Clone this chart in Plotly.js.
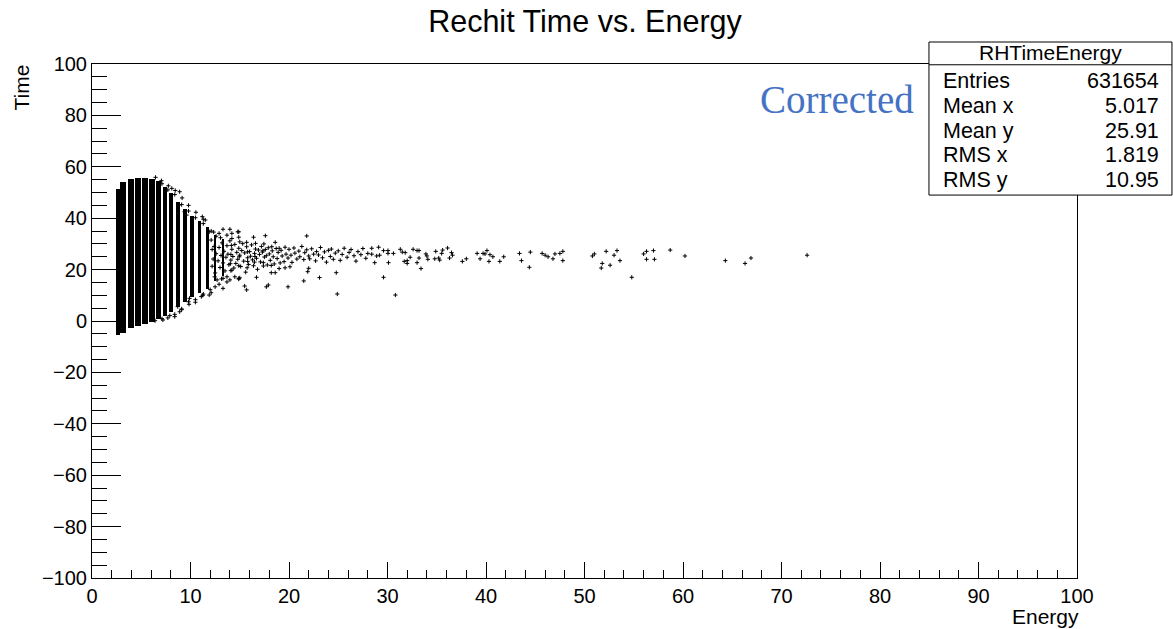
<!DOCTYPE html>
<html>
<head>
<meta charset="utf-8">
<script src="https://cdn.plot.ly/plotly-3.0.1.min.js"></script>
<style>html,body{margin:0;padding:0;background:#fff;}#chart{width:1173px;height:629px;}</style>
</head>
<body>
<div id="chart"></div>
<script>
// Dense core columns (energy bins): centre, width, time extent
const colEnergy = [2.65, 3.15, 3.95, 4.7, 5.4, 6.1, 6.75, 7.4, 8.05, 8.75, 9.45, 10.15, 10.9, 11.7, 12.5, 13.3];
const colWidth  = [0.45, 0.6, 0.62, 0.6, 0.58, 0.55, 0.5, 0.46, 0.42, 0.4, 0.37, 0.34, 0.32, 0.3, 0.26, 0.22];
const colTimeLo = [-5.3, -4.8, -2.6, -1.8, -1.0, -0.2, 0.6, 1.8, 3.4, 5.5, 7.5, 9.2, 10.8, 12.4, 15.5, 17.5];
const colTimeHi = [51.5, 54.0, 55.3, 55.6, 55.5, 55.2, 54.3, 52.0, 49.8, 46.5, 43.6, 41.0, 38.8, 36.5, 33.5, 32.0];

// Individual scattered entries
const ptEnergy = [
 8.1, 8.9, 8.8, 9.4, 9.6, 11.2, 11.5, 11.9, 13.3, 14.0, 14.2, 14.9, 8.9, 8.7, 9.8, 9.9, 11.1, 11.3, 11.9, 12.5, 13.3, 12.7, 13.3, 13.7, 14.0, 14.5, 14.9, 14.2,
 7.1, 7.7, 8.4, 9.1, 9.8, 10.5, 11.3, 12.1, 7.2, 7.9, 8.4, 9.1, 10.5, 12.1, 12.9, 12.9, 13.7, 13.7,
 7.75, 8.45, 9.15, 9.8, 10.55, 11.3, 7.7, 8.4, 9.1, 9.85, 10.5, 11.25, 12.0, 6.45, 7.05, 6.4, 7.1,
 12.1, 12.2, 12.3, 12.2, 12.4, 12.5, 12.6, 12.6, 12.8, 12.9, 13.0, 13.1, 13.2, 13.3, 13.4, 13.5, 13.6, 13.7, 13.8, 13.9, 14.0, 14.1, 14.2, 14.3, 14.4, 14.5, 14.6, 14.7, 14.8, 14.9,
 14.05, 14.1, 14.15, 14.2, 14.1, 14.9, 14.95, 15.0, 14.9, 15.75, 15.8, 15.7, 15.8, 16.5, 16.6, 16.55, 17.4, 17.35, 17.45, 18.2, 18.25, 19.1, 19.0, 12.35, 12.45, 13.05, 13.15,
 15.0, 15.1, 15.2, 15.3, 15.4, 15.5, 15.6, 15.7, 15.8, 15.9, 16.0, 16.1, 16.2, 16.3, 16.4, 16.5, 16.6, 16.7, 16.8, 16.9, 17.0, 17.1, 17.2, 17.3, 17.4, 17.5, 17.6, 17.7, 17.8, 17.9,
 18.0, 18.1, 18.3, 18.4, 18.5, 18.7, 18.8, 18.9, 19.0, 19.2, 19.3, 19.5, 19.6, 19.7, 19.9,
 20.0, 20.2, 20.3, 20.5, 20.6, 20.8, 21.0, 21.1, 21.3, 21.5, 21.6, 21.8, 22.0, 22.1, 22.3, 22.5, 22.7, 22.8, 23.0, 23.2, 23.4, 23.6, 23.8, 24.0, 24.2, 24.3, 24.5, 24.7,
 25.0, 25.2, 25.4, 25.6, 25.9, 26.1, 26.3, 26.6, 26.8, 27.0, 27.3, 27.5, 27.8, 28.0,
 14.8, 16.4, 17.6, 21.8, 18.6, 14.9, 15.0, 15.5, 15.7, 16.7, 17.9, 17.7, 18.2, 18.6, 19.9, 21.5, 23.1, 24.8, 24.9, 21.9, 22.0, 19.6, 20.1,
 28.4, 28.4, 28.7, 28.9, 29.1, 29.2, 29.6, 29.6, 30.05, 30.05, 30.1, 30.6, 30.8, 31.3, 31.5, 31.7, 31.8, 32.0, 32.0, 32.3, 32.6, 33.0, 33.2, 33.0, 33.2, 33.4,
 33.9, 34.0, 34.1, 34.8, 34.9, 35.2, 35.3, 35.5, 35.6, 36.1, 36.3, 36.5, 36.6, 37.6, 38.0, 39.1, 39.4, 39.7, 39.9, 40.1, 40.3, 40.4, 40.7, 41.4, 41.8,
 43.4, 43.6, 44.4, 44.5, 45.7, 46.0, 46.3, 46.8, 47.0, 47.5, 47.8, 47.8, 50.8, 51.0, 51.7, 51.8, 52.2, 52.6, 53.0, 53.3, 53.6, 54.8,
 56.0, 56.3, 56.3, 57.0, 57.1, 58.7, 60.2, 64.3, 66.3, 66.9, 72.6
];
const ptTime = [
 51.6, 50.3, 45.1, 42.5, 41.2, 40.6, 39.3, 34.7, 35.7, 35.7, 34.1, 34.7, 3.6, 5.6, 7.5, 8.8, 9.5, 10.5, 10.1, 13.3, 12.7, 16.0, 16.6, 17.2, 16.0, 17.2, 16.6, 19.8,
 53.4, 51.0, 49.2, 45.3, 42.8, 40.2, 37.9, 35.0, 0.4, 2.1, 1.7, 4.4, 7.3, 11.0, 14.3, 34.1, 15.2, 33.4,
 52.6, 50.8, 47.9, 45.0, 42.3, 39.6, 1.2, 2.6, 4.7, 6.5, 8.3, 10.0, 12.2, 55.9, 54.6, 0.1, 0.9,
 31.5, 27.8, 24.1, 21.3, 29.0, 18.7, 26.2, 33.0, 23.4, 28.6, 20.8, 25.5, 30.4, 22.6, 27.1, 19.5, 24.8, 29.3, 26.0, 21.9, 31.2, 23.7, 27.9, 25.1, 20.6, 29.8, 22.4, 26.7, 24.0, 28.3,
 22.3, 25.9, 29.4, 32.1, 19.6, 21.5, 25.0, 30.8, 32.6, 20.7, 26.9, 30.6, 23.2, 22.9, 30.2, 25.1, 21.4, 27.3, 30.0, 21.6, 28.9, 22.6, 28.3, 34.6, 17.2, 32.4, 16.4,
 25.6, 21.2, 27.4, 30.1, 23.3, 26.5, 19.0, 28.9, 24.6, 22.0, 27.0, 25.2, 29.6, 23.8, 21.5, 26.3, 28.0, 24.4, 20.1, 27.6, 25.9, 23.0, 29.0, 26.8, 22.7, 24.9, 27.8, 25.4, 21.8, 28.5,
 26.1, 23.6, 27.3, 25.0, 22.2, 28.2, 24.3, 26.7, 20.4, 27.5, 25.3, 23.1, 28.7, 26.0, 24.5,
 27.9, 25.6, 22.8, 28.4, 26.4, 24.1, 27.2, 25.0, 29.0, 23.9, 26.6, 27.7, 25.3, 24.2, 28.1, 26.0, 23.4, 27.0, 25.7, 28.6, 24.6, 26.9, 22.9, 27.5, 25.1, 28.0, 24.0, 26.4,
 27.3, 23.6, 25.9, 28.3, 24.8, 26.7, 27.8, 25.4, 23.3, 27.0, 25.8, 28.2, 24.4, 26.3,
 34.7, 32.6, 33.2, 33.1, 30.6, 16.3, 16.8, 13.6, 12.1, 17.0, 14.0, 13.3, 18.8, 18.8, 13.3, 15.6, 16.9, 18.8, 10.5, 19.2, 20.5, 20.7, 21.1,
 28.3, 26.0, 22.7, 25.3, 28.7, 25.6, 27.4, 17.0, 27.4, 26.3, 22.7, 26.3, 10.1, 27.9, 26.8, 23.2, 26.6, 22.4, 23.5, 24.8, 27.9, 27.4, 27.4, 22.7, 24.5, 20.4,
 26.1, 25.3, 24.0, 24.2, 27.1, 24.5, 23.7, 26.3, 27.6, 28.4, 24.5, 26.6, 25.6, 23.2, 24.2, 26.3, 24.2, 26.3, 26.1, 27.4, 23.2, 25.8, 25.0, 23.2, 25.0,
 26.3, 23.5, 20.9, 26.8, 26.3, 25.6, 25.0, 24.2, 26.1, 26.3, 23.5, 27.1, 25.3, 26.1, 20.6, 22.4, 27.1, 21.7, 25.6, 27.4, 23.5, 17.0,
 26.1, 27.1, 24.0, 27.4, 24.0, 27.6, 25.3, 23.5, 22.4, 24.5, 25.6
];

const statLabels = ["Entries", "Mean x", "Mean y", "RMS x", "RMS y"];
const statValues = ["631654", "5.017", "25.91", "1.819", "10.95"];

const FONT = "Liberation Sans, Arial, Helvetica, sans-serif";

const traces = [
  {
    type: "bar",
    x: colEnergy,
    base: colTimeLo,
    y: colTimeHi.map((h, i) => h - colTimeLo[i]),
    width: colWidth,
    marker: {color: "#000000", line: {width: 0}},
    hoverinfo: "skip",
    showlegend: false
  },
  {
    type: "scatter",
    mode: "markers",
    x: ptEnergy,
    y: ptTime,
    marker: {symbol: "cross-thin", size: 3, color: "#000", line: {width: 1, color: "#000"}},
    showlegend: false,
    hoverinfo: "x+y"
  }
];

// Stats box geometry (paper coords)
const bx0 = 0.8497, bx1 = 1.0964, by0 = 0.745, by1 = 1.0428, bdiv = 0.9985;
const shapes = [
  {type: "rect", xref: "paper", yref: "paper", x0: bx0, x1: bx1, y0: by0, y1: by1,
   fillcolor: "#ffffff", line: {color: "#000", width: 1}, layer: "above"},
  {type: "line", xref: "paper", yref: "paper", x0: bx0, x1: bx1, y0: bdiv, y1: bdiv,
   line: {color: "#000", width: 1}, layer: "above"}
];

const rowY = [0.9675, 0.9190, 0.8705, 0.8220, 0.7750];
const annotations = [
  {xref: "paper", yref: "paper", x: (bx0 + bx1) / 2, y: 1.0215, text: "RHTimeEnergy",
   showarrow: false, xanchor: "center", yanchor: "middle", font: {family: FONT, size: 21, color: "#000"}},
  {xref: "paper", yref: "paper", x: 0.8365, y: 0.930, text: "Corrected",
   showarrow: false, xanchor: "right", yanchor: "middle",
   font: {family: "Liberation Serif, DejaVu Serif, serif", size: 39, color: "#4472C4"}},
  {xref: "paper", yref: "paper", x: 1.004, y: -0.049, text: "Energy",
   showarrow: false, xanchor: "right", yanchor: "top", font: {family: FONT, size: 21, color: "#000"}},
  {xref: "paper", yref: "paper", x: -0.0715, y: 1.002, text: "Time", textangle: -90,
   showarrow: false, xanchor: "center", yanchor: "top", font: {family: FONT, size: 21, color: "#000"}}
];
statLabels.forEach((lab, i) => {
  annotations.push({xref: "paper", yref: "paper", x: 0.8615, y: rowY[i], text: lab, showarrow: false,
    xanchor: "left", yanchor: "middle", font: {family: FONT, size: 21.5, color: "#000"}});
  annotations.push({xref: "paper", yref: "paper", x: 1.0855, y: rowY[i], text: statValues[i], showarrow: false,
    xanchor: "right", yanchor: "middle", font: {family: FONT, size: 21.5, color: "#000"}});
});

const layout = {
  width: 1173, height: 629,
  margin: {l: 92, r: 96, t: 64, b: 51, pad: 0},
  paper_bgcolor: "#ffffff", plot_bgcolor: "#ffffff",
  barmode: "overlay", bargap: 0,
  font: {family: FONT, size: 20, color: "#000"},
  title: {text: "Rechit Time vs. Energy", x: 0.4987, xanchor: "center", y: 0.966, yanchor: "middle",
          font: {family: FONT, size: 30.5, color: "#000"}},
  xaxis: {
    range: [0, 100], dtick: 10, tick0: 0, ticks: "inside", ticklen: 16, tickwidth: 1, tickcolor: "#000",
    minor: {dtick: 2, ticks: "inside", ticklen: 8, tickwidth: 1, tickcolor: "#000", showgrid: false},
    showline: true, linecolor: "#000", linewidth: 1, mirror: true,
    showgrid: false, zeroline: false, tickfont: {family: FONT, size: 20, color: "#000"}
  },
  yaxis: {
    range: [-100, 100], dtick: 20, tick0: 0, ticks: "inside", ticklen: 29, tickwidth: 1, tickcolor: "#000",
    minor: {dtick: 5, ticks: "inside", ticklen: 15, tickwidth: 1, tickcolor: "#000", showgrid: false},
    showline: true, linecolor: "#000", linewidth: 1, mirror: true,
    showgrid: false, zeroline: false, tickfont: {family: FONT, size: 20, color: "#000"}
  },
  shapes: shapes,
  annotations: annotations,
  showlegend: false
};

Plotly.newPlot("chart", traces, layout, {displayModeBar: false, staticPlot: true});
</script>
</body>
</html>
